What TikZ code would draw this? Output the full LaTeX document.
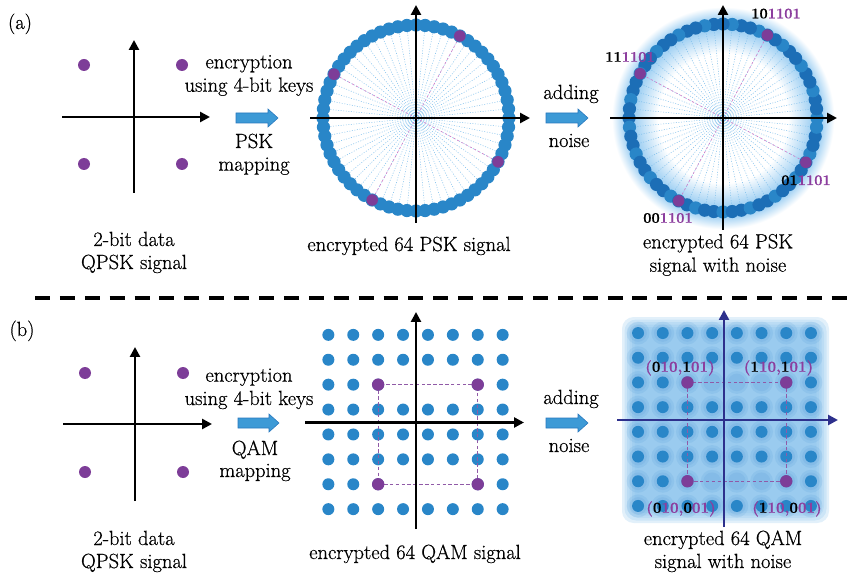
\documentclass[tikz,border=0pt]{standalone}
\usepackage{fontspec}
\setmainfont{Latin Modern Roman}[FakeBold=0.6]
\usetikzlibrary{arrows.meta}
\definecolor{dotblue}{RGB}{41,134,200}
\definecolor{dotblueB}{RGB}{28,110,182}
\definecolor{qpurple}{RGB}{125,61,152}
\definecolor{lblpurple}{RGB}{140,62,158}
\definecolor{rayblue}{RGB}{120,188,235}
\definecolor{raypink}{RGB}{210,125,200}
\definecolor{navy}{RGB}{45,48,140}
\definecolor{arrowfill}{RGB}{61,154,214}
\definecolor{arrowedge}{RGB}{40,120,190}
\definecolor{glowblue}{RGB}{135,196,240}
\definecolor{bgblue}{RGB}{125,188,234}
\definecolor{haloblue}{RGB}{60,140,208}
\pgfdeclareradialshading{ringglow}{\pgfpoint{0bp}{0bp}}{color(0bp)=(white); color(14.5bp)=(white); color(21.2bp)=(glowblue); color(24.8bp)=(white); color(50bp)=(white)}
\newcommand\purp[1]{\textcolor{lblpurple}{#1}}
\begin{document}
\begin{tikzpicture}[x=0.3mm,y=-0.3mm,
  txt/.style={font=\fontsize{17.5}{19.6}\selectfont, anchor=base, inner sep=0pt},
  lbl/.style={font=\fontsize{12.5}{14}\selectfont\bfseries, anchor=base, inner sep=0pt},
  qlbl/.style={font=\fontsize{13}{15}\selectfont\bfseries, anchor=base, inner sep=0pt},
  axis/.style={line width=2.5pt, -{Triangle[length=8.5pt,width=8.5pt]}},
  navyaxis/.style={axis, draw=navy},
  blockarrow/.style={fill=arrowfill, draw=arrowedge, line width=0.5pt},
  ray/.style={draw=rayblue, line width=0.45pt, dash pattern=on 0.8pt off 1.4pt},
  pinkray/.style={draw=raypink, line width=0.5pt, dash pattern=on 2pt off 2pt},
  qdot/.style={fill=qpurple},
  bdot/.style={fill=dotblue},
  rect/.style={draw=qpurple!85, line width=0.7pt, dash pattern=on 3pt off 2pt},
  sep/.style={line width=3pt, dash pattern=on 12.75pt off 8.5pt}
]
\useasboundingbox (0,0) rectangle (852,576);

% ---------------- panel (a) ----------------
\node[txt] (la) at (20,29) {(a)};
% QPSK
\draw[axis] (62,117) -- (210,117);
\draw[axis] (134,193) -- (134,40);
\foreach \p in {(84,65),(182,65),(84,164),(182,164)} \fill[qdot] \p circle (6);
\node[txt] (a1) at (249,68.3) {encryption};
\node[txt] (a2) at (249,91.7) {using 4-bit keys};
\draw[blockarrow] (236,113) -- ++(32,0) -- ++(0,-4) -- ++(10,9) -- ++(-10,9) -- ++(0,-4) -- ++(-32,0) -- cycle;
\node[txt] (a3) at (254,148) {PSK};
\node[txt] (a4) at (254,170.7) {mapping};
\node[txt] (a5) at (134,246) {2-bit data};
\node[txt] (a6) at (134,269) {QPSK signal};

% 64 PSK
\begin{scope}[shift={(416,118)}, yscale=-1]
  \foreach \k in {0,...,63} \draw[ray] (0,0) -- (\k*5.625:93);
  \foreach \k in {11,27,43,59} \draw[pinkray] (0,0) -- (\k*5.625:93);
  \foreach \k in {0,...,63} \fill[bdot] (\k*5.625:93) circle (6.6);
\end{scope}
\draw[axis] (310,118) -- (530,118);
\draw[axis] (416,223) -- (416,5);
\begin{scope}[shift={(416,118)}, yscale=-1]
  \foreach \k in {11,27,43,59} \fill[qdot] (\k*5.625:93) circle (5.8);
\end{scope}
\node[txt] (a7) at (409,251) {encrypted 64 PSK signal};

\node[txt] (a8) at (571,99) {adding};
\draw[blockarrow] (546,113) -- ++(32,0) -- ++(0,-4) -- ++(10,9) -- ++(-10,9) -- ++(0,-4) -- ++(-32,0) -- cycle;
\node[txt] (a9) at (569,147) {noise};

% 64 PSK with noise
\shade[shading=ringglow] (723,118) circle (112);
\begin{scope}[shift={(723,118)}, yscale=-1]
  \foreach \k in {0,...,63} \draw[ray] (0,0) -- (\k*5.625:94);
  \foreach \k in {11,27,43,59} \draw[pinkray] (0,0) -- (\k*5.625:94);
  \foreach \k in {0,...,63} {
    \pgfmathtruncatemacro\m{mod(\k,3)}
    \ifnum\m=0 \fill[dotblue] (\k*5.625:94) circle (6.6);
    \else \fill[dotblueB] (\k*5.625:94) circle (6.6); \fi
  }
\end{scope}
\draw[axis] (610,118) -- (837,118);
\draw[axis] (723,230) -- (723,5);
\begin{scope}[shift={(723,118)}, yscale=-1]
  \foreach \k in {11,27,43,59} \fill[qdot] (\k*5.625:94) circle (5.8);
\end{scope}
\node[lbl] (l1) at (776,18.3) {10\purp{1101}};
\node[lbl] (l2) at (630,61.7) {11\purp{1101}};
\node[lbl] (l3) at (806,185) {01\purp{1101}};
\node[lbl] (l4) at (668,222.7) {00\purp{1101}};
\node[txt] (a10) at (718,248.3) {encrypted 64 PSK};
\node[txt] (a11) at (718,271.7) {signal with noise};

% separator
\draw[sep] (35,298) -- (852,298);

% ---------------- panel (b) ----------------
\node[txt] (lb) at (22,336) {(b)};
\draw[axis] (63,424) -- (212,424);
\draw[axis] (135,501) -- (135,347);
\foreach \p in {(85,373),(183,373),(85,472),(183,472)} \fill[qdot] \p circle (6);
\node[txt] (b1) at (249,381.7) {encryption};
\node[txt] (b2) at (249,405) {using 4-bit keys};
\draw[blockarrow] (238,418) -- ++(31,0) -- ++(0,-4) -- ++(10,9) -- ++(-10,9) -- ++(0,-4) -- ++(-31,0) -- cycle;
\node[txt] (b3) at (255,455) {QAM};
\node[txt] (b4) at (255,477) {mapping};
\node[txt] (b5) at (134,545) {2-bit data};
\node[txt] (b6) at (134,568) {QPSK signal};

% 64 QAM
\foreach \i in {0,...,7} \foreach \j in {0,...,7} {
  \pgfmathtruncatemacro\hide{((\j==2 || \j==6) && \i>2 && \i<6) ? 1 : 0}
  \ifnum\hide=0
    \fill[bdot] ({415.5+(\i-3.5)*24.9},{422+(\j-3.5)*24.9}) circle (6);
  \fi
}
\draw[rect] (378.15,384.65) rectangle (477.75,484.25);
\foreach \p in {(378.15,384.65),(477.75,384.65),(378.15,484.25),(477.75,484.25)} \fill[qdot] \p circle (6.2);
\draw[axis] (305,422.5) -- (524,422.5);
\draw[axis] (416,529) -- (416,312);
\node[txt] (b7) at (415,559) {encrypted 64 QAM signal};

\node[txt] (b8) at (571,404) {adding};
\draw[blockarrow] (546,418) -- ++(32,0) -- ++(0,-4) -- ++(10,9) -- ++(-10,9) -- ++(0,-4) -- ++(-32,0) -- cycle;
\node[txt] (b9) at (569,452) {noise};

% 64 QAM with noise
\foreach \s in {0,...,5}
  \fill[bgblue, opacity=0.22, rounded corners=3.5mm] ({622+\s*2.5},{317+\s*2.5}) rectangle ({829-\s*2.5},{523-\s*2.5});
\foreach \i in {0,...,7} \foreach \j in {0,...,7} {
  \pgfmathtruncatemacro\hide{((\j==2 || \j==6) && \i>2 && \i<6) ? 1 : 0}
  \fill[haloblue, opacity=0.12] ({724.5+(\i-3.5)*24.7},{419.5+(\j-3.5)*24.7}) circle (11.5);
  \fill[haloblue, opacity=0.13] ({724.5+(\i-3.5)*24.7},{419.5+(\j-3.5)*24.7}) circle (8.8);
  \ifnum\hide=0
    \fill[bdot] ({724.5+(\i-3.5)*24.7},{419.5+(\j-3.5)*24.7}) circle (6);
  \fi
}
\draw[rect] (687.45,382.45) rectangle (786.25,481.25);
\foreach \p in {(687.45,382.45),(786.25,382.45),(687.45,481.25),(786.25,481.25)} \fill[qdot] \p circle (6.2);
\draw[navyaxis] (617,420) -- (838,420);
\draw[navyaxis] (724,527) -- (724,310);
\node[qlbl] (q1) at (680,371.7) {\purp{(}0\purp{10,}1\purp{01)}};
\node[qlbl] (q2) at (778.5,371.7) {\purp{(}1\purp{10,}1\purp{01)}};
\node[qlbl] (q3) at (681,512.7) {\purp{(}0\purp{10,}0\purp{01)}};
\node[qlbl] (q4) at (787,512.7) {\purp{(}1\purp{10,}0\purp{01)}};
\node[txt] (b10) at (723,545) {encrypted 64 QAM};
\node[txt] (b11) at (723,568) {signal with noise};
\end{tikzpicture}
\end{document}
